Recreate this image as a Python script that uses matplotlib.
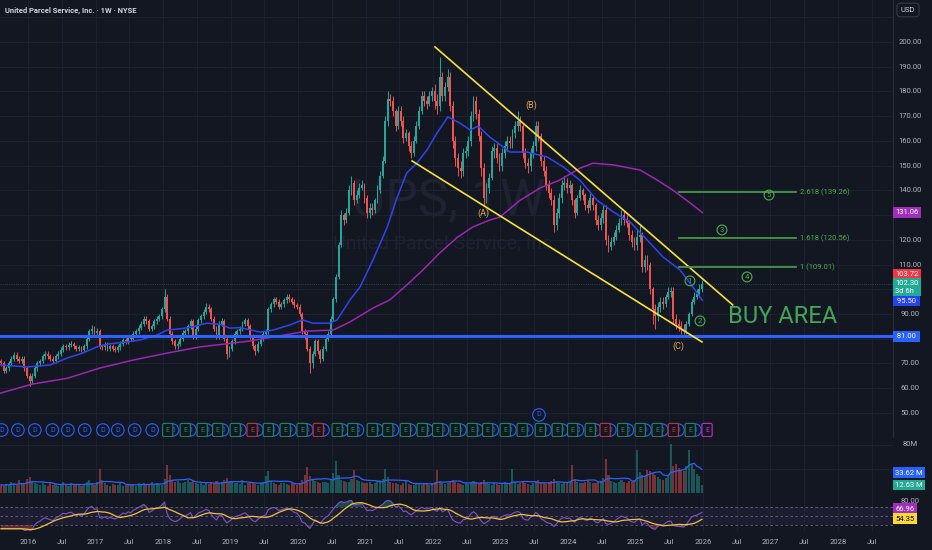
import numpy as np
import pandas as pd
import matplotlib
matplotlib.use("Agg")
import matplotlib.pyplot as plt

plt.rcParams['font.family'] = ['Roboto', 'DejaVu Sans']

# ---- data: UPS, 2-week candles starting Aug 2015 (prices in USD) ----
start_year = 2015.6
first_open = 71

c2015 = [70, 67, 68, 70, 72, 73.5, 72, 71, 72, 68, 65]
h2015 = [72, 71, 69, 71, 73, 74.5, 74.5, 73, 73, 73, 69]
l2015 = [69, 66, 66, 67, 69, 71, 71, 70, 70, 67, 64]

c2016 = [63, 65, 68, 70, 71, 73, 74, 73, 72, 71, 73, 74, 75.5, 77, 76.5, 77.5, 78, 77, 76, 76.5, 75.5, 77, 80, 83, 84, 82.5]
h2016 = [66, 66, 69, 71, 72, 74, 75, 75, 74, 73, 74, 75, 76.5, 78, 78, 78.5, 79, 78.5, 77.5, 77.5, 77, 78, 81, 84, 85.5, 85]
l2016 = [61, 62, 64, 67, 69, 70, 72, 72, 71, 70, 70, 72, 73, 74.5, 75.5, 75.5, 76.5, 76, 75, 75, 74.5, 74.5, 76, 79, 82, 81.5]

c2017 = [83, 77, 76.5, 77.5, 76, 77, 76, 75.5, 76.5, 78, 79.5, 79, 80.5, 80, 82, 83, 84.5, 86, 88, 87, 84, 85, 87, 88, 89, 92]
h2017 = [84.5, 84, 78, 78.5, 78.5, 78, 78, 77, 77.5, 79, 80.5, 80.5, 81.5, 81.5, 83, 84, 85.5, 87, 89, 89, 88, 86, 88, 89, 90, 93]
l2017 = [81.5, 76, 75.5, 75.5, 75, 75, 75, 74.5, 74.5, 75.5, 77, 78, 78, 79, 79, 81, 82, 83.5, 85, 86, 83, 83, 84, 86, 87, 88]

c2018 = [97, 88, 82, 79, 77, 78, 80, 82.5, 83, 85, 87, 81, 84, 87.5, 89, 91, 93, 92, 88, 84, 81, 86, 87, 80, 74, 76]
h2018 = [100, 98, 89, 83, 80, 79, 81, 83.5, 84, 86, 88, 88, 85, 88.5, 90, 92, 94.5, 94, 93, 89, 85, 87, 88.5, 88, 81, 77]
l2018 = [91, 87, 81, 78, 76, 76, 77, 79, 81.5, 82, 84, 80, 80, 83, 86.5, 88, 90, 91, 87, 83, 80, 80, 85, 79, 72, 72.5]

c2019 = [79, 82, 83, 84, 86, 87.5, 85, 81, 77, 75, 78, 80, 82, 83, 92, 94, 96, 95, 93, 94, 95.5, 97, 96, 95, 93.5, 93]
h2019 = [80, 83, 84, 85, 87, 88.5, 88.5, 86, 82, 78, 79, 81, 83, 84, 93, 95, 97, 97, 96, 95, 96.5, 98, 98, 97, 96, 94.5]
l2019 = [75, 78, 81, 82, 83, 85, 84, 80, 76, 73.5, 74.5, 77, 79, 81, 82, 91, 93, 94, 92, 92, 93, 94.5, 95, 94, 92.5, 92]

c2020 = [90, 83, 82, 76, 70, 74, 79, 75, 72, 76, 80, 82, 88, 96, 105, 118, 130, 128, 131, 140, 143, 136, 138, 141, 142, 137]
h2020 = [94, 91, 84, 83, 77, 75, 80, 80, 76, 77, 81, 83, 89, 97, 106, 119, 132, 131, 133, 142, 146, 144, 140, 143, 144, 143]
l2020 = [89, 82, 80, 75, 66, 68, 73, 74, 70, 71, 75, 79, 81, 87, 95, 104, 117, 126, 127, 130, 138, 134, 135, 137, 140, 135]

c2021 = [131, 133, 132, 136, 140, 146, 152, 168, 177, 176, 172, 166, 172, 168, 161, 163, 158, 155, 160, 166, 172, 178, 176, 175, 178, 180]
h2021 = [138, 135, 135, 137, 142, 148, 154, 170, 180, 179, 178, 173, 174, 174, 170, 165, 164, 160, 162, 168, 174, 180, 180, 178, 180, 182]
l2021 = [129, 129, 130, 131, 135, 139, 145, 151, 166, 174, 170, 164, 165, 166, 159, 160, 156, 153, 154, 159, 165, 171, 174, 173, 174, 176]

c2022 = [176, 174, 186, 178, 182, 186, 174, 160, 153, 149, 148, 155, 156, 160, 170, 176, 171, 162, 149, 137, 141, 145, 156, 157, 153, 150]
h2022 = [183, 179, 194, 188, 184, 189, 188, 176, 162, 155, 152, 157, 158, 162, 172, 178, 178, 173, 164, 151, 143, 147, 158, 159, 159, 155]
l2022 = [173, 171, 172, 176, 176, 180, 172, 157, 150, 146, 145, 146, 153, 154, 158, 168, 169, 160, 146, 134, 135, 139, 144, 153, 151, 148]

c2023 = [155, 158, 160, 159, 163, 166, 168, 166, 155, 151, 150, 155, 158, 166, 162, 152, 148, 142, 139, 136, 126, 131, 137, 142, 143, 141]
h2023 = [157, 160, 162, 162, 165, 168, 172, 170, 167, 157, 153, 157, 160, 168, 168, 163, 154, 150, 144, 141, 138, 133, 139, 144, 146, 145]
l2023 = [148, 153, 156, 157, 157, 161, 164, 164, 153, 149, 147, 148, 153, 156, 160, 150, 146, 140, 137, 134, 123, 124, 129, 135, 140, 139]

c2024 = [142, 136, 131, 137, 140, 138, 134, 133, 137, 134, 128, 126, 129, 132, 120, 117, 119, 121, 124, 127, 130, 128, 127, 122, 119, 118]
h2024 = [144, 143, 137, 138, 142, 141, 139, 136, 139, 138, 135, 130, 131, 134, 134, 122, 121, 123, 126, 129, 132, 132, 130, 128, 124, 121]
l2024 = [139, 134, 129, 130, 136, 136, 132, 131, 132, 132, 126, 124, 124, 127, 118, 115, 116, 118, 120, 123, 126, 126, 125, 120, 117, 116]

c2025 = [121, 122, 109, 112, 110, 100, 92, 89, 93, 95, 94, 97, 99, 99.5, 88, 86, 85, 84, 83, 86, 90, 95, 97, 98, 100, 102.3]
h2025 = [124, 126, 123, 114, 114, 111, 101, 94, 95, 97, 97, 98, 101, 101, 101, 90, 88, 87, 86, 87, 91, 96, 99, 100, 102, 103.7]
l2025 = [116, 119, 107, 107, 108, 98, 86, 84, 87, 91, 92, 93, 96, 97, 86, 84, 83, 82, 82, 82, 85, 89, 94, 96, 97, 99]

# volume, millions of shares per week
v2015 = [14, 12, 15, 13, 18, 16, 14, 22, 15, 17, 24]
v2016 = [26, 20, 17, 15, 13, 16, 14, 12, 18, 13, 15, 12, 14, 19, 13, 12, 16, 14, 13, 15, 12, 14, 18, 21, 16, 13]
v2017 = [18, 40, 22, 16, 14, 12, 15, 13, 14, 16, 12, 13, 15, 14, 13, 12, 16, 14, 17, 15, 13, 18, 14, 16, 15, 13]
v2018 = [24, 46, 30, 22, 18, 20, 17, 16, 19, 22, 18, 20, 16, 15, 17, 14, 16, 15, 18, 16, 20, 17, 19, 21, 25, 19]
v2019 = [18, 16, 17, 15, 22, 14, 16, 18, 17, 15, 14, 16, 18, 28, 37, 20, 16, 15, 14, 17, 16, 15, 14, 16, 15, 14]
v2020 = [17, 22, 30, 44, 28, 24, 20, 18, 16, 19, 18, 17, 22, 33, 53, 30, 22, 20, 18, 19, 24, 38, 22, 20, 18, 17]
v2021 = [16, 18, 15, 17, 20, 22, 24, 40, 26, 18, 16, 17, 15, 14, 16, 22, 15, 14, 13, 16, 15, 14, 16, 15, 14, 16]
v2022 = [18, 38, 20, 16, 15, 17, 19, 22, 18, 16, 15, 14, 16, 15, 17, 20, 16, 15, 18, 21, 17, 15, 14, 16, 15, 14]
v2023 = [16, 18, 15, 17, 40, 18, 15, 16, 20, 17, 15, 14, 16, 18, 22, 17, 16, 15, 18, 20, 24, 18, 16, 15, 17, 16]
v2024 = [20, 46, 24, 18, 16, 17, 19, 22, 18, 17, 16, 18, 20, 25, 57, 30, 20, 18, 17, 19, 22, 18, 17, 20, 19, 22]
v2025 = [71, 35, 30, 28, 38, 36, 34, 30, 26, 24, 22, 25, 28, 82, 45, 49, 42, 38, 36, 45, 71, 48, 40, 32, 28, 12.6]

# moving averages (decimal year, price)
ma_fast_t = [2015.59, 2015.99, 2016.33, 2016.58, 2016.81, 2017.02, 2017.21, 2017.41, 2017.66, 2017.91,
             2018.06, 2018.25, 2018.44, 2018.65, 2018.84, 2018.99, 2019.14, 2019.44, 2019.63, 2019.88,
             2020.07, 2020.22, 2020.47, 2020.58, 2020.77, 2020.92, 2021.11, 2021.32, 2021.47, 2021.61,
             2021.76, 2021.91, 2022.06, 2022.22, 2022.40, 2022.55, 2022.67, 2022.84, 2023.14, 2023.39,
             2023.69, 2023.93, 2024.18, 2024.43, 2024.67, 2024.92, 2025.17, 2025.41, 2025.66, 2025.85, 2025.99]
ma_fast = [69.4, 68.6, 69.4, 72.2, 74.2, 76.7, 78, 78.5, 79.5, 81.5,
           83.5, 84, 84.8, 86.3, 85.8, 84.3, 84.5, 82.7, 83.5, 85.6,
           87.6, 86.3, 86.3, 87.6, 95.7, 101, 111.8, 125, 137.3, 147,
           151, 156.3, 163.2, 169.7, 167.2, 164.4, 166, 161.6, 155.5, 155.5,
           153.5, 149.5, 144, 136, 131.3, 127.2, 120, 113, 107.8, 101, 95.5]
ma_slow_t = [2015.59, 2016.07, 2016.58, 2017.07, 2017.56, 2018.06, 2018.55, 2019.04, 2019.29, 2019.63,
             2020.13, 2020.52, 2020.77, 2021.11, 2021.36, 2021.61, 2021.85, 2022.10, 2022.36, 2022.59,
             2022.84, 2022.99, 2023.29, 2023.59, 2023.88, 2024.18, 2024.37, 2024.67, 2025.07, 2025.32,
             2025.56, 2025.81, 2025.99]
ma_slow = [58, 61.7, 64, 68.2, 71.4, 74.2, 76.7, 78.3, 79.1, 80.7,
           83.1, 83.5, 86.8, 92.4, 95.7, 101.7, 107.8, 114.7, 121, 125.2,
           128, 129.2, 136, 141, 144.2, 149, 151, 150.3, 148.2, 144.2,
           140, 134.9, 131.06]

# quarterly events
dividend_dates = [2015.61, 2015.85, 2016.10, 2016.36, 2016.59, 2016.84, 2017.11, 2017.33, 2017.58, 2017.84,
                  2018.14, 2018.40, 2018.65, 2018.88, 2019.14, 2019.39, 2019.63, 2019.88, 2020.13, 2020.37,
                  2020.65, 2020.88, 2021.17, 2021.40, 2021.66, 2021.91, 2022.14, 2022.40, 2022.65, 2022.88,
                  2023.14, 2023.39, 2023.66, 2023.91, 2024.14, 2024.40, 2024.62, 2024.88, 2025.14, 2025.39,
                  2025.63, 2025.88]
earnings_dates = [2018.07, 2018.33, 2018.58, 2018.81, 2019.07, 2019.32, 2019.56, 2019.81, 2020.06, 2020.30,
                  2020.58, 2020.81, 2021.10, 2021.33, 2021.59, 2021.84, 2022.07, 2022.33, 2022.58, 2022.81,
                  2023.07, 2023.32, 2023.59, 2023.84, 2024.07, 2024.33, 2024.55, 2024.81, 2025.07, 2025.32,
                  2025.56, 2025.81, 2026.06]
earnings_miss = [2019.32, 2020.30, 2024.55, 2025.56]
earnings_next = 2026.06
special_dividend = 2023.57

support_level = 81.00
fib_levels = [1.0, 1.618, 2.618]
fib_prices = [109.01, 120.56, 139.26]

close = np.array(c2015 + c2016 + c2017 + c2018 + c2019 + c2020 + c2021 + c2022 + c2023 + c2024 + c2025, float)
high = np.array(h2015 + h2016 + h2017 + h2018 + h2019 + h2020 + h2021 + h2022 + h2023 + h2024 + h2025, float)
low = np.array(l2015 + l2016 + l2017 + l2018 + l2019 + l2020 + l2021 + l2022 + l2023 + l2024 + l2025, float)
volume = np.array(v2015 + v2016 + v2017 + v2018 + v2019 + v2020 + v2021 + v2022 + v2023 + v2024 + v2025, float)
assert len(close) == len(high) == len(low) == len(volume)

opn = np.concatenate([[first_open], close[:-1]])
t = start_year + np.arange(len(close)) / 26
high = np.maximum(high, np.maximum(opn, close))
low = np.minimum(low, np.minimum(opn, close))
up = close >= opn

# indicators
s = pd.Series(close)
delta = s.diff()
gain = delta.clip(lower=0).ewm(alpha=1 / 11, adjust=False, min_periods=8).mean()
loss = (-delta.clip(upper=0)).ewm(alpha=1 / 11, adjust=False, min_periods=8).mean()
rsi = (100 - 100 / (1 + gain / loss)).bfill()
rsi_ma = rsi.rolling(9, min_periods=1).mean()
vol_ma = pd.Series(volume).rolling(10, min_periods=1).mean()

# ---- style ----
BG = '#131722'
GRID = '#1c2030'
TXT = '#b2b5be'
UP = '#26a69a'
DOWN = '#ef5350'
BLUE = '#2962ff'
GREEN = '#4caf50'
YELLOW = '#f5e23b'
ORANGE = '#e3a857'
PURPLE = '#9c27b0'

W, H = 932, 550
fig = plt.figure(figsize=(W / 100, H / 100), dpi=100, facecolor=BG)
ax_p = fig.add_axes([0, (H - 437) / H, 893 / W, 437 / H])
ax_v = fig.add_axes([0, (H - 493) / H, 893 / W, 56 / H])
ax_r = fig.add_axes([0, (H - 531) / H, 893 / W, 38 / H])

x_left, x_right = 2015.585, 2028.815
for ax in (ax_p, ax_v, ax_r):
    ax.set_facecolor(BG)
    ax.set_xlim(x_left, x_right)
    for sp in ax.spines.values():
        sp.set_visible(False)
    ax.tick_params(length=0, labelleft=False, labelbottom=False, labelright=False)
    ax.set_yticks([])
    for yr in np.arange(2016, 2029, 0.5):
        ax.axvline(yr, color=GRID, lw=0.8, zorder=0)
ax_p.spines['right'].set_visible(True)
ax_p.spines['right'].set_color('#2a2e39')

# ---- price pane ----
ax_p.set_ylim(40.27, 216.98)
for lvl in range(50, 220, 10):
    ax_p.axhline(lvl, color=GRID, lw=0.8, zorder=0)

ax_p.text(2022.24, 135.3, 'UPS, 1W', fontsize=37, color='#1f2331', ha='center', va='center', zorder=1)
ax_p.text(2022.18, 118.7, 'United Parcel Service, Inc.', fontsize=14, color='#1f2331',
          ha='center', va='center', zorder=1)

colors = np.where(up, UP, DOWN)
ax_p.vlines(t, low, high, colors=colors, lw=0.7, zorder=3)
body_lo = np.minimum(opn, close)
body_h = np.maximum(np.abs(close - opn), 0.4)
ax_p.bar(t, body_h, bottom=body_lo, width=0.72 / 26, color=colors, linewidth=0, zorder=3)

ax_p.plot(ma_fast_t, ma_fast, color='#2f45f0', lw=1.1, zorder=4)
ax_p.plot(ma_slow_t, ma_slow, color=PURPLE, lw=1.1, zorder=4)

ax_p.axhline(close[-1], color=UP, lw=0.6, ls=':', alpha=0.5, zorder=2)
ax_p.axhline(support_level, color=BLUE, lw=2.2, zorder=5)

# channel
ax_p.plot([2022.03, 2026.44], [198, 93.7], color=YELLOW, lw=1.2, zorder=6)
ax_p.plot([2021.69, 2025.985], [151.9, 78.7], color=YELLOW, lw=1.2, zorder=6)

for lab, tx, py in [('(A)', 2022.74, 130.9), ('(B)', 2023.45, 174.5), ('(C)', 2025.63, 77.1)]:
    ax_p.text(tx, py, lab, color=ORANGE, fontsize=6.5, ha='center', va='center', zorder=7)

# fib extensions
for lvl, pr in zip(fib_levels, fib_prices):
    ax_p.plot([2025.644, 2027.378], [pr, pr], color='#3f9a45', lw=1.3, zorder=6)
    ax_p.text(2027.44, pr, f'{lvl:g} ({pr:.2f})', color=GREEN, fontsize=5.5,
              ha='left', va='center', zorder=7)

for num, tx, py in [('1', 2025.807, 103.4), ('2', 2025.956, 87.2), ('3', 2026.281, 124.0),
                    ('4', 2026.652, 105.0), ('5', 2026.978, 138.1)]:
    ax_p.text(tx, py, num, color=GREEN, fontsize=5.5, ha='center', va='center', zorder=7,
              bbox=dict(boxstyle='circle,pad=0.25', fc='none', ec=GREEN, lw=0.8))

ax_p.text(2027.185, 88.8, 'BUY AREA', color='#43a55a', fontsize=17, ha='center', va='center', zorder=7)

# dividends / earnings
ev_y = 43.1
for d in dividend_dates:
    ax_p.text(d, ev_y, 'D', color=BLUE, fontsize=5, ha='center', va='center', zorder=6,
              bbox=dict(boxstyle='circle,pad=0.4', fc=BG, ec=BLUE, lw=0.8))
ax_p.text(special_dividend, 49.2, 'D', color=BLUE, fontsize=5, ha='center', va='center', zorder=6,
          bbox=dict(boxstyle='circle,pad=0.4', fc=BG, ec=BLUE, lw=0.8))
for e in earnings_dates:
    if e == earnings_next:
        ec = '#c430c4'
    elif e in earnings_miss:
        ec = '#c2353d'
    else:
        ec = '#1f8a62'
    ax_p.text(e, ev_y, 'E', color=ec, fontsize=5, ha='center', va='center', zorder=7,
              bbox=dict(boxstyle='round,pad=0.45,rounding_size=0.25', fc=BG, ec=ec, lw=0.8))

# right axis labels
ytr = ax_p.get_yaxis_transform()
for lvl in [200, 190, 180, 170, 160, 150, 140, 120, 110, 90, 70, 60, 50]:
    ax_p.text(1.019, lvl, f'{lvl:.2f}', transform=ytr, color=TXT, fontsize=5.5,
              ha='center', va='center', clip_on=False)


def tag(ax, val, text, fc, tc='white'):
    ax.text(1.0025, val, text, transform=ax.get_yaxis_transform(), color=tc, fontsize=5.5,
            ha='left', va='center', clip_on=False, linespacing=1.3, zorder=10,
            bbox=dict(boxstyle='square,pad=0.3', fc=fc, ec='none'))


tag(ax_p, 131.06, '131.06', '#a12fbe')
tag(ax_p, 106.2, '103.72', '#f23645')
tag(ax_p, 100.9, '102.30\n3d 6h', '#22ab94')
tag(ax_p, 95.3, ' 95.50 ', '#2544f0')
tag(ax_p, 81.0, ' 81.00 ', BLUE)

fig.text(908 / W, 1 - 10 / H, 'USD', color='#d1d4dc', fontsize=5.5, ha='center', va='center',
         bbox=dict(boxstyle='round,pad=0.5', fc=BG, ec='#363a45', lw=0.8))
fig.text(5 / W, 1 - 10 / H, 'United Parcel Service, Inc. · 1W · NYSE', color='#d1d4dc',
         fontsize=5.5, fontweight='bold', ha='left', va='center')

# ---- volume pane ----
ax_v.set_ylim(0, 93.3)
for lvl in (40, 80):
    ax_v.axhline(lvl, color=GRID, lw=0.8, zorder=0)
ax_v.bar(t, volume, width=0.8 / 26, color=colors, alpha=0.45, linewidth=0, zorder=2)
ax_v.plot(t, vol_ma, color=BLUE, lw=0.9, zorder=3)
ax_v.text(1.019, 81.5, '80M', transform=ax_v.get_yaxis_transform(), color=TXT, fontsize=5.5,
          ha='center', va='center', clip_on=False)
tag(ax_v, 33.8, '33.62 M', BLUE)
tag(ax_v, 13.3, '12.63 M', '#22ab94')

# ---- RSI pane ----
ax_r.set_ylim(16.7, 101.1)
ax_r.axhspan(30, 70, color='#7e57c2', alpha=0.1, lw=0, zorder=0)
for lvl in (70, 50, 30):
    ax_r.axhline(lvl, color='#787b86', lw=0.6, ls=(0, (3, 3)), alpha=0.8, zorder=1)
ax_r.fill_between(t, 70, rsi, where=rsi > 70, color=UP, alpha=0.35, lw=0, zorder=1)
ax_r.fill_between(t, 30, rsi, where=rsi < 30, color=DOWN, alpha=0.35, lw=0, zorder=1)
ax_r.plot(t, rsi, color='#7e57c2', lw=0.8, zorder=2)
ax_r.plot(t, rsi_ma, color='#f0c040', lw=0.9, zorder=3)
ax_r.text(1.019, 83.5, '80.00', transform=ax_r.get_yaxis_transform(), color=TXT, fontsize=5.5,
          ha='center', va='center', clip_on=False)
tag(ax_r, 66.3, '66.96', '#a12fbe')
tag(ax_r, 44.3, '54.35', '#fdd835', tc='black')

# time axis
ticks = np.arange(2016, 2029, 0.5)
labels = [str(int(v)) if v % 1 == 0 else 'Jul' for v in ticks]
ax_r.set_xticks(ticks)
ax_r.set_xticklabels(labels)
ax_r.tick_params(axis='x', labelbottom=True, colors=TXT, labelsize=5.5, pad=6)

fig.savefig('out.png', dpi=100, facecolor=BG)
